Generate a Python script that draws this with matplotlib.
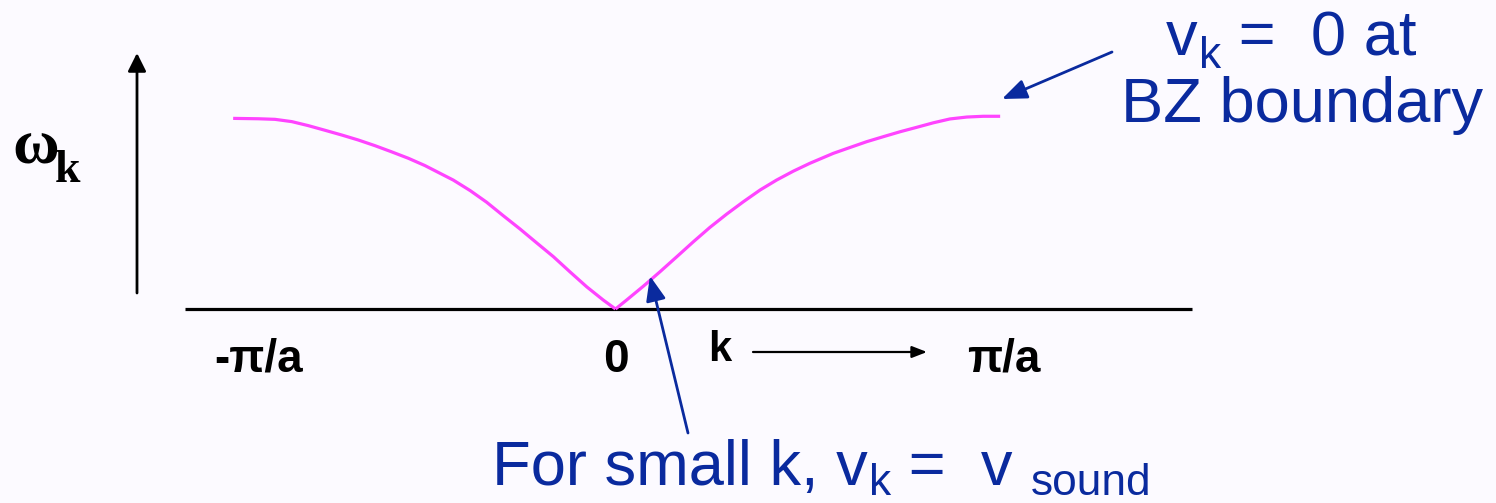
import matplotlib
matplotlib.use("Agg")
import matplotlib.pyplot as plt

plt.rcParams['font.family'] = ['Liberation Sans', 'DejaVu Sans']

# ---- data (k in units of pi/a, omega in units of omega_max) ----
k_left = [-0.997, -0.931, -0.888, -0.844, -0.801, -0.758, -0.714, -0.671, -0.627, -0.584,
          -0.540, -0.497, -0.423, -0.379, -0.336, -0.293, -0.249, -0.206, -0.162,
          -0.119, -0.075, -0.032, 0.0]
w_left = [0.998, 0.996, 0.993, 0.981, 0.960, 0.936, 0.911, 0.885, 0.855, 0.823,
          0.789, 0.751, 0.675, 0.620, 0.559, 0.489, 0.419, 0.347, 0.274,
          0.195, 0.116, 0.047, 0.0]
k_right = [0.0, 0.029, 0.073, 0.116, 0.160, 0.203, 0.246, 0.290, 0.333, 0.377,
           0.420, 0.464, 0.507, 0.568, 0.612, 0.655, 0.698, 0.742, 0.785,
           0.829, 0.872, 0.916, 0.959, 1.003]
w_right = [0.0, 0.047, 0.120, 0.195, 0.274, 0.352, 0.427, 0.497, 0.561, 0.623,
           0.675, 0.722, 0.763, 0.815, 0.846, 0.876, 0.902, 0.928, 0.951,
           0.975, 0.995, 1.005, 1.009, 1.009]
tick_pos = [-1.0, 0.0, 1.0]
tick_labels = ['-π/a', '0', 'π/a']

W, H = 1496, 503
BG = '#FCFAFF'
BLUE = '#0A2A9E'
MAG = '#FF44FF'

fig = plt.figure(figsize=(W / 100, H / 100), dpi=100, facecolor=BG)
ax = fig.add_axes([0, 0, 1, 1])
ax.set_facecolor(BG)
ax.axis('off')

# pixel mapping: k=0 at x=615.5, 383.5 px per unit; omega=0 at y=309, 191 px per unit
x0, sx, y0, sy = 615.5, 383.5, 309, 191
ax.set_xlim((0 - x0) / sx, (W - x0) / sx)
ax.set_ylim((y0 - H) / sy, (y0 - 0) / sy)


def P(xp, yp):
    """pixel -> axes fraction"""
    return xp / W, 1 - yp / H


# horizontal axis line
ax.plot([(185 - x0) / sx, (1192 - x0) / sx], [0, 0], color='black', lw=2.3, solid_capstyle='butt')

# vertical arrow
ax.annotate('', xy=P(137, 53), xycoords='axes fraction', xytext=P(137, 293), textcoords='axes fraction',
            arrowprops=dict(arrowstyle='-|>,head_length=1.1,head_width=0.55', color='black', lw=2.0,
                            shrinkA=0, shrinkB=0))

# dispersion curve
ax.plot(k_left, w_left, color=MAG, lw=2.3, solid_joinstyle='round', solid_capstyle='butt')
ax.plot(k_right, w_right, color=MAG, lw=2.3, solid_joinstyle='round', solid_capstyle='butt')

# tick labels
offs = [27, 0, 5]
for kp, lab, o in zip(tick_pos, tick_labels, offs):
    ax.annotate(lab, xy=(kp, 0), xytext=(o, -51), textcoords='offset pixels',
                ha='center', va='center', fontsize=33, fontweight='bold', color='black')

# k arrow label
ax.text(*P(720, 350), 'k', transform=ax.transAxes, ha='center', va='center',
        fontsize=30, fontweight='bold', color='black')
ax.annotate('', xy=P(927, 352), xycoords='axes fraction', xytext=P(753, 352), textcoords='axes fraction',
            arrowprops=dict(arrowstyle='-|>,head_length=0.9,head_width=0.35', color='black', lw=1.6,
                            shrinkA=0, shrinkB=0))

# omega_k label
ax.text(*P(12, 163), 'ω', transform=ax.transAxes, ha='left', va='baseline',
        fontsize=46, fontweight='bold', color='black', family=['Liberation Serif', 'DejaVu Serif'])
ax.text(*P(55, 182), 'k', transform=ax.transAxes, ha='left', va='baseline',
        fontsize=33, fontweight='bold', color='black', family=['Liberation Serif', 'DejaVu Serif'])


def chain(pieces, start, size, color, sub_lift=0):
    """pieces: list of (text, is_sub). Draws text pieces left to right."""
    base = ax.text(*P(*start), pieces[0][0], transform=ax.transAxes, ha='left', va='baseline',
                   fontsize=size, color=color)
    prev = base
    for txt, sub in pieces[1:]:
        if sub:
            t = ax.annotate(txt, xy=(1, 0), xycoords=(prev, base), xytext=(1, sub_lift),
                            textcoords='offset pixels', ha='left', va='baseline',
                            fontsize=size * 0.70, color=color)
        else:
            t = ax.annotate(txt, xy=(1, 0), xycoords=(prev, base), ha='left', va='bottom',
                            fontsize=size, color=color)
        prev = t
    return base


SZ = 45.5
chain([('v', False), ('k', True), (' =  0 at', False)], (1166, 55), SZ, BLUE)
ax.text(*P(1302, 122), 'BZ boundary', transform=ax.transAxes, ha='center',
        va='baseline', fontsize=SZ, color=BLUE)
ax.annotate('', xy=P(1002, 99), xycoords='axes fraction', xytext=P(1112, 52), textcoords='axes fraction',
            arrowprops=dict(arrowstyle='-|>,head_length=1.5,head_width=0.6', color=BLUE, lw=2.0,
                            shrinkA=0, shrinkB=0))

chain([('For small k, v', False), ('k', True), (' =  v ', False), ('sound', True)], (492, 485), SZ, BLUE,
      sub_lift=3)
ax.annotate('', xy=P(650, 276), xycoords='axes fraction', xytext=P(688, 433), textcoords='axes fraction',
            arrowprops=dict(arrowstyle='-|>,head_length=1.5,head_width=0.6', color=BLUE, lw=2.0,
                            shrinkA=0, shrinkB=0))

fig.savefig('out.png', dpi=100, facecolor=BG)
